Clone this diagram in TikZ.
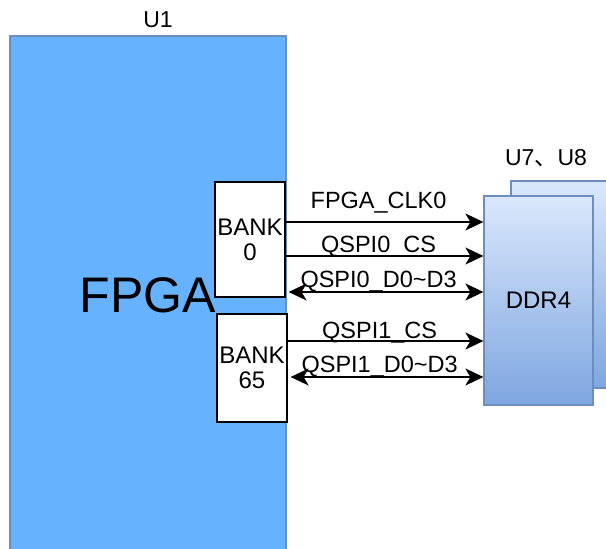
\documentclass[tikz,border=0pt]{standalone}
\usepackage{fontspec}
\setmainfont{Liberation Sans}
\newfontfamily\cjkfont{Noto Sans CJK SC}
\usetikzlibrary{arrows.meta,positioning,calc}

\definecolor{fpgafill}{HTML}{66B2FF}
\definecolor{edgeblue}{HTML}{6C8EBF}
\definecolor{ddrtop}{HTML}{DAE8FC}
\definecolor{ddrbottom}{HTML}{7EA6E0}

\tikzset{
  chipbox/.style={draw=edgeblue, line width=1.2pt, fill=fpgafill, inner sep=0pt},
  bankbox/.style={draw=black, line width=1.2pt, fill=white, inner sep=0pt,
    align=center, font=\fontsize{24}{25}\selectfont},
  ddrbox/.style={draw=edgeblue, line width=1.2pt, top color=ddrtop,
    bottom color=ddrbottom, inner sep=0pt, font=\fontsize{24}{26}\selectfont},
  sig/.style={line width=1.5pt, -{Stealth[length=18pt,width=17pt,inset=5pt]}},
  bisig/.style={line width=1.5pt, shorten <=3pt,
    {Stealth[length=18pt,width=17pt,inset=5pt]}-{Stealth[length=18pt,width=17pt,inset=5pt]}},
  sigtext/.style={font=\fontsize{23.5}{26}\selectfont, anchor=base, pos=0.47},
  parttext/.style={font=\fontsize{23}{26}\selectfont}
}

\begin{document}
\begin{tikzpicture}[x=1pt,y=-1pt]
    \useasboundingbox (0,0) rectangle (606,549);

    % FPGA U1
    \node[chipbox, minimum width=276pt, minimum height=564pt] (u1) at (148,318) {};
    \node[parttext] (u1name) at (158,20) {U1};
    \node[font=\fontsize{50}{56}\selectfont] (fpganame) at (148,295) {FPGA};

    % banks
    \node[bankbox, minimum width=70pt, minimum height=115pt] (bank0) at (250,239.5) {BANK\\0};
    \node[bankbox, minimum width=70pt, minimum height=108pt] (bank65) at (252,368) {BANK\\65};

    % DDR4 U7, U8
    \node[ddrbox, minimum width=109pt, minimum height=207pt] (ddrback) at (565.5,284.5) {};
    \node[ddrbox, minimum width=109pt, minimum height=209pt] (ddr) at (538.5,300.5) {DDR4};
    \node[parttext] (ddrname) at (546,158) {U7{\cjkfont 、}U8};

    % signals
    \draw[sig] (bank0.east |- 0,222) -- node[sigtext, yshift=14pt] {FPGA\_CLK0} (ddr.west |- 0,222);
    \draw[sig] (bank0.east |- 0,256) -- node[sigtext, yshift=4pt] {QSPI0\_CS} (ddr.west |- 0,256);
    \draw[bisig] (bank0.east |- 0,292) -- node[sigtext, yshift=5pt] {QSPI0\_D0\textasciitilde D3} (ddr.west |- 0,292);
    \draw[sig] (bank65.east |- 0,341) -- node[sigtext, yshift=3pt] {QSPI1\_CS} (ddr.west |- 0,341);
    \draw[bisig] (bank65.east |- 0,377) -- node[sigtext, yshift=5pt] {QSPI1\_D0\textasciitilde D3} (ddr.west |- 0,377);
\end{tikzpicture}
\end{document}
